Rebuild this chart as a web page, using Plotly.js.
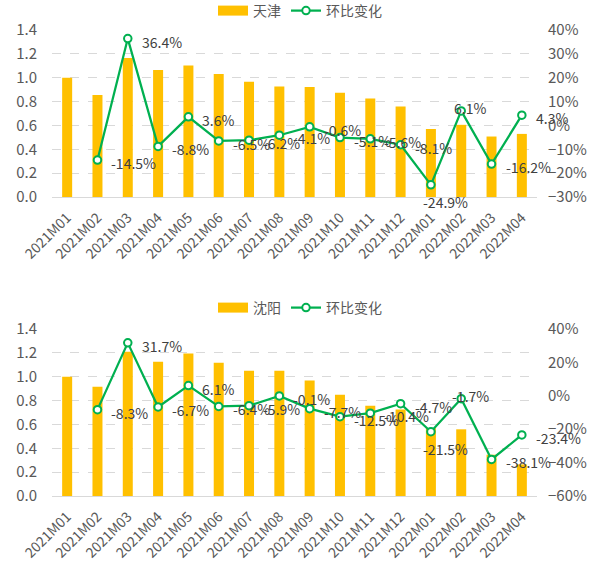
<!DOCTYPE html>
<html><head><meta charset="utf-8">
<script src="https://cdn.plot.ly/plotly-3.0.1.min.js"></script>
<style>body{margin:0;padding:0;background:#fff}.c{width:600px;height:284px}</style>
</head><body>
<div id="c1" class="c"></div><div id="c2" class="c"></div>
<script>
const months = ['2021M01','2021M02','2021M03','2021M04','2021M05','2021M06','2021M07','2021M08','2021M09','2021M10','2021M11','2021M12','2022M01','2022M02','2022M03','2022M04'];
const tianjinIndex = [1.000,0.855,1.165,1.065,1.103,1.031,0.967,0.927,0.922,0.875,0.826,0.759,0.570,0.605,0.507,0.529];
const tianjinMoM = [null,-14.5,36.4,-8.8,3.6,-6.5,-6.2,-4.1,-0.6,-5.1,-5.6,-8.1,-24.9,6.1,-16.2,4.3];
const shenyangIndex = [1.000,0.916,1.210,1.126,1.194,1.118,1.050,1.050,0.969,0.849,0.757,0.725,0.569,0.559,0.346,0.265];
const shenyangMoM = [null,-8.3,31.7,-6.7,6.1,-6.4,-5.9,-0.1,-7.7,-12.5,-10.4,-4.7,-21.5,-1.7,-38.1,-23.4];
const lineName = '环比变化';

const FONT = '"Noto Sans CJK SC", "Noto Sans", sans-serif';
const fmt = v => v.toFixed(1) + '%';

// label placement styles (not data)
const placeRight = {xanchor: 'left', yanchor: 'middle', xshift: 12, yshift: -3};
const placeBelow = {xanchor: 'center', yanchor: 'middle', xshift: 15, yshift: -17};
const placeOn = {xanchor: 'center', yanchor: 'middle', xshift: 9, yshift: 3};

function draw(div, city, idx, mom, placeMap, y2range, y2dtick, mt, mb, legY) {
  const traces = [
    {type: 'bar', name: city, x: months, y: idx, marker: {color: '#FFC000'}, yaxis: 'y', showlegend: false},
    {type: 'scatter', name: city, x: [null], y: [null], mode: 'lines', yaxis: 'y',
     line: {color: '#FFC000', width: 10}, showlegend: true},
    {type: 'scatter', name: lineName, x: months, y: mom, yaxis: 'y2',
     mode: 'lines+markers', cliponaxis: false,
     line: {color: '#00B050', width: 2.25},
     marker: {symbol: 'circle', size: 7.5, color: '#FFFFFF', line: {color: '#00B050', width: 2}}}
  ];
  const annotations = [];
  months.forEach((m, i) => {
    if (mom[i] == null) return;
    const p = placeMap[m] || placeRight;
    annotations.push(Object.assign({x: m, y: mom[i], xref: 'x', yref: 'y2', text: fmt(mom[i]),
      showarrow: false, font: {size: 14, color: '#404040', family: FONT}}, p));
  });
  const layout = {
    width: 600, height: 284,
    margin: {l: 52, r: 63, t: mt, b: mb},
    paper_bgcolor: '#fff', plot_bgcolor: '#fff',
    font: {family: FONT, size: 14, color: '#595959'},
    showlegend: true,
    legend: {orientation: 'h', x: 0.5, xanchor: 'center', xref: 'container', yref: 'container',
             y: legY, yanchor: 'middle',
             font: {size: 14, color: '#595959'}, traceorder: 'normal'},
    bargap: 0.67,
    annotations: annotations,
    xaxis: {type: 'category', range: [-0.5, months.length - 0.5], tickangle: -45, showline: true,
            linecolor: '#D9D9D9', linewidth: 1,
            showgrid: false, ticks: '', automargin: false, ticklabelstandoff: 6,
            tickfont: {size: 14, color: '#595959'}},
    yaxis: {range: [0, 1.4], dtick: 0.2, tickformat: '.1f', gridcolor: '#D9D9D9', griddash: 'dash',
            zeroline: false, showline: false, ticklabelstandoff: 14, automargin: false,
            tickfont: {size: 15, color: '#595959'}},
    yaxis2: {overlaying: 'y', side: 'right', range: y2range, dtick: y2dtick, ticksuffix: '%',
             showgrid: false, zeroline: false, showline: false, ticklabelstandoff: 10, automargin: false,
             tickfont: {size: 15, color: '#595959'}},
    hovermode: false
  };
  Plotly.newPlot(div, traces, layout, {staticPlot: true});
}

draw('c1', '天津', tianjinIndex, tianjinMoM,
     {'2022M01': placeBelow, '2022M02': placeOn}, [-30, 40], 10, 30, 87, 1 - 11 / 284);
draw('c2', '沈阳', shenyangIndex, shenyangMoM,
     {'2022M01': placeBelow, '2022M02': placeOn}, [-60, 40], 20, 45, 72, 1 - 24 / 284);
</script>
</body></html>
